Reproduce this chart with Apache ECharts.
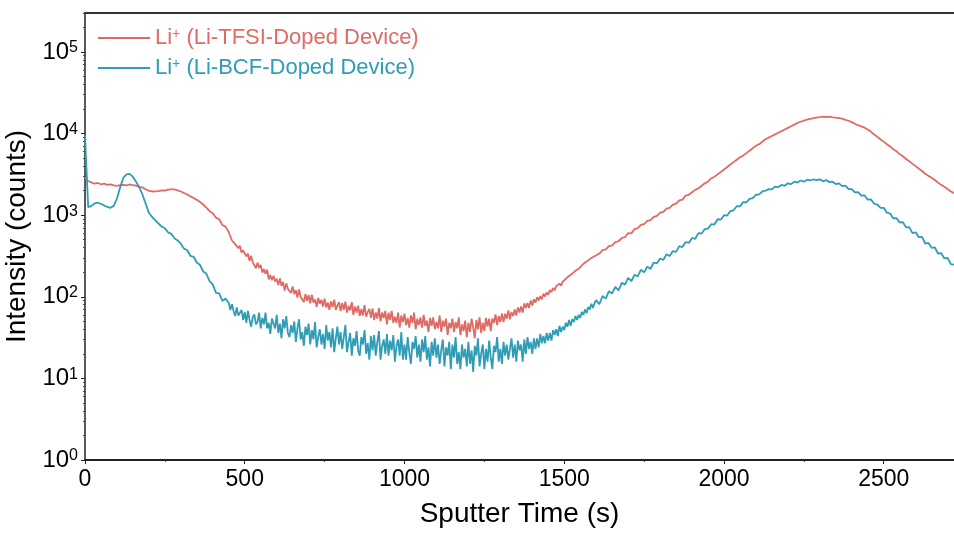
<!DOCTYPE html>
<html>
<head>
<meta charset="utf-8">
<script src="https://cdn.jsdelivr.net/npm/echarts@6/dist/echarts.min.js"></script>
<style>
html,body{margin:0;padding:0;background:#fff;}
#chart{width:954px;height:535px;}
</style>
</head>
<body>
<div id="chart"></div>
<script>
// Segments of the sputter-time sampling grid: [start (s), step (s)]
const earlySegment = [0, 10];     // 0 – 440 s
const middleSegment = [450, 5];   // 450 – 1595 s (noisy minimum, finer sampling)
const lateSegment = [1600, 10];   // 1600 – 2720 s

// Li+ counts, Li-TFSI-doped device
const tfsiEarly = [
  2900, 2620, 2520, 2440, 2480, 2390, 2430, 2350, 2380, 2320,
  2290, 2330, 2350, 2310, 2380, 2330, 2300, 2220, 2190, 2080,
  1990, 1950, 1960, 1970, 2010, 2000, 2060, 2070, 2070, 2010,
  1950, 1870, 1790, 1700, 1620, 1540, 1450, 1350, 1240, 1120,
  1047, 933, 891, 759, 724
];
const tfsiMiddle = [
  617, 594, 489, 515, 442, 458, 394, 423, 349, 371,
  383, 312, 336, 275, 319, 266, 276, 224, 262, 226,
  246, 198, 219, 190, 215, 163, 185, 160, 181, 154,
  166, 139, 168, 136, 152, 119, 146, 125, 130, 111,
  134, 108, 120, 98, 123, 100, 105, 86, 108, 89,
  105, 83, 106, 85, 93, 75, 97, 82, 92, 76,
  95, 74, 85, 69, 88, 75, 92, 69, 78, 86,
  67, 84, 69, 87, 64, 77, 68, 86, 60, 76,
  64, 78, 58, 71, 59, 79, 57, 65, 71, 55,
  72, 52, 64, 54, 73, 50, 64, 55, 67, 46,
  64, 52, 67, 48, 57, 48, 64, 42, 59, 49,
  62, 45, 55, 42, 59, 48, 64, 40, 54, 45,
  56, 42, 60, 44, 51, 37, 55, 44, 56, 40,
  49, 41, 59, 37, 51, 43, 54, 34, 48, 41,
  54, 37, 49, 41, 56, 34, 46, 38, 51, 32,
  48, 37, 54, 42, 31, 52, 40, 56, 36, 48,
  38, 55, 43, 54, 38, 54, 48, 61, 45, 58,
  49, 62, 49, 62, 54, 68, 53, 65, 58, 70,
  59, 74, 64, 76, 64, 83, 73, 84, 73, 90,
  78, 93, 85, 99, 90, 102, 93, 109, 101, 113,
  106, 121, 114, 128, 120, 135, 130, 145, 137, 152,
  149, 167, 162, 180, 172, 192, 187, 208, 201, 220,
  222, 243, 235, 263, 254, 279, 269, 299, 293, 314
];
const tfsiLate = [
  324, 339, 372, 380, 417, 427, 468, 479, 525, 537,
  603, 598, 676, 692, 759, 776, 851, 871, 955, 977,
  1072, 1096, 1202, 1230, 1349, 1380, 1514, 1549, 1738, 1778,
  1905, 2042, 2138, 2291, 2455, 2570, 2818, 2951, 3162, 3388,
  3631, 3890, 4169, 4467, 4786, 5129, 5370, 5754, 6166, 6607,
  7079, 7413, 7943, 8511, 8913, 9333, 9772, 10230, 10720, 11220,
  11750, 12300, 12880, 13490, 13960, 14450, 14790, 15140, 15490, 15670,
  15850, 16150, 15950, 16100, 15800, 15700, 15450, 15200, 14750, 14350,
  13800, 13180, 12650, 12250, 11800, 11180, 10500, 9750, 9150, 8480,
  7960, 7390, 6940, 6430, 6050, 5600, 5270, 4880, 4590, 4250,
  3990, 3700, 3480, 3220, 3030, 2870, 2700, 2500, 2350, 2230,
  2089, 1950, 1862
];

// Li+ counts, Li-BCF-doped device
const bcfEarly = [
  9500, 1250, 1300, 1390, 1420, 1380, 1310, 1260, 1230, 1300,
  1600, 2190, 2880, 3160, 3200, 2950, 2570, 2190, 1780, 1380,
  1070, 950, 870, 790, 725, 690, 615, 590, 520, 490,
  447, 389, 372, 316, 309, 263, 245, 204, 191, 155,
  141, 112, 110, 89, 95
];
const bcfMiddle = [
  84, 69, 81, 67, 58, 74, 59, 62, 69, 52,
  65, 48, 67, 52, 43, 56, 61, 46, 49, 64,
  41, 55, 46, 64, 41, 48, 35, 54, 56, 41,
  60, 36, 47, 31, 53, 41, 58, 36, 32, 45,
  36, 50, 28, 41, 53, 30, 37, 25, 43, 34,
  47, 26, 39, 30, 49, 24, 32, 40, 26, 35,
  23, 45, 29, 37, 24, 41, 21, 31, 43, 26,
  37, 23, 32, 45, 21, 28, 36, 19, 31, 25,
  38, 22, 19, 32, 26, 39, 20, 27, 17, 33,
  22, 34, 19, 28, 38, 17, 25, 30, 20, 35,
  19, 29, 22, 34, 16, 25, 30, 19, 37, 17,
  26, 17, 32, 21, 15, 28, 23, 33, 18, 26,
  16, 30, 21, 33, 17, 24, 14, 28, 19, 31,
  18, 26, 15, 22, 30, 14, 24, 19, 28, 13,
  26, 18, 32, 15, 21, 13, 26, 18, 23, 14,
  28, 15, 22, 12, 25, 19, 31, 14, 20, 26,
  13, 23, 16, 29, 18, 13, 25, 21, 32, 16,
  23, 15, 28, 19, 26, 17, 23, 31, 18, 26,
  16, 29, 22, 26, 16, 30, 20, 32, 23, 28,
  20, 31, 23, 31, 24, 35, 27, 33, 27, 36,
  29, 36, 29, 39, 34, 40, 33, 44, 37, 43,
  39, 48, 43, 52, 44, 53, 49, 58, 52, 60,
  55, 65, 60, 70, 63, 75, 70, 82, 73, 84
];
const bcfLate = [
  91, 81, 102, 95, 117, 110, 132, 120, 148, 141,
  170, 155, 186, 178, 214, 200, 234, 219, 263, 257,
  295, 282, 331, 316, 363, 355, 417, 407, 468, 457,
  525, 513, 603, 596, 676, 684, 776, 767, 891, 880,
  1000, 990, 1122, 1148, 1288, 1280, 1445, 1430, 1585, 1622,
  1778, 1800, 1950, 1995, 2089, 2070, 2239, 2210, 2344, 2291,
  2455, 2399, 2570, 2512, 2660, 2570, 2720, 2660, 2754, 2692,
  2754, 2600, 2692, 2540, 2570, 2399, 2455, 2265, 2300, 2089,
  2090, 1905, 1910, 1738, 1745, 1549, 1560, 1380, 1349, 1230,
  1230, 1072, 1047, 912, 920, 813, 820, 708, 715, 603,
  617, 537, 540, 447, 457, 398, 402, 339, 342, 295,
  300, 251, 248
];

const seriesNames = ['Li+ (Li-TFSI-Doped Device)', 'Li+ (Li-BCF-Doped Device)'];
const seriesColors = ['#E06A64', '#2E9DB5'];
const majorYTicks = [1, 10, 100, 1000, 10000, 100000];
const minorYTicks = [2,3,4,5,6,7,8,9, 20,30,40,50,60,70,80,90, 200,300,400,500,600,700,800,900,
  2000,3000,4000,5000,6000,7000,8000,9000, 20000,30000,40000,50000,60000,70000,80000,90000, 200000, 300000];
const xAxisTitle = 'Sputter Time (s)';
const yAxisTitle = 'Intensity (counts)';

const segment = (seg, arr) => arr.map((v, i) => [seg[0] + i * seg[1], v]);
const build = (early, middle, late) =>
  segment(earlySegment, early).concat(segment(middleSegment, middle), segment(lateSegment, late));

const chart = echarts.init(document.getElementById('chart'), null, {renderer: 'canvas'});
const font = 'Arial, "Liberation Sans", sans-serif';
const supLabel = v => '10{sup|' + Math.round(Math.log10(v)) + '}';

chart.setOption({
  animation: false,
  backgroundColor: '#fff',
  grid: {left: 85, right: 0, top: 13, bottom: 75, containLabel: false, outerBoundsMode: 'none'},
  legend: {
    orient: 'vertical',
    left: 93, top: 22,
    icon: 'rect',
    itemWidth: 52, itemHeight: 2, itemGap: 8,
    formatter: n => n.replace('Li+', 'Li{sup|+}'),
    data: seriesNames.map((n, i) => ({
      name: n,
      itemStyle: {color: seriesColors[i]},
      textStyle: {
        color: seriesColors[i], fontSize: 22, fontFamily: font,
        rich: {sup: {fontSize: 14, color: seriesColors[i], verticalAlign: 'top', fontFamily: font, lineHeight: 16}}
      }
    }))
  },
  xAxis: [{
    type: 'value', min: 0, max: 2720, interval: 500,
    name: xAxisTitle, nameLocation: 'middle', nameGap: 40,
    nameTextStyle: {fontSize: 28, color: '#000', fontFamily: font},
    axisLine: {show: true, onZero: false, lineStyle: {color: '#222', width: 2}},
    axisTick: {show: true, inside: false, length: 4, lineStyle: {color: '#222', width: 1}},
    minorTick: {show: true, splitNumber: 2, length: 2, lineStyle: {color: '#444', width: 1}},
    axisLabel: {fontSize: 23, color: '#000', fontFamily: font, margin: 8, showMaxLabel: false, formatter: v => String(v)},
    splitLine: {show: false}
  }, {
    type: 'value', min: 0, max: 2720, position: 'top',
    axisLine: {show: true, onZero: false, lineStyle: {color: '#333', width: 2}},
    axisTick: {show: false}, axisLabel: {show: false}, splitLine: {show: false}
  }],
  yAxis: [{
    type: 'log', logBase: 10, min: 1, max: 300000,
    name: yAxisTitle, nameLocation: 'middle', nameGap: 46, nameRotate: 90,
    nameTextStyle: {fontSize: 28, color: '#000', fontFamily: font},
    axisLine: {show: true, onZero: false, lineStyle: {color: '#222', width: 1.5}},
    axisTick: {show: true, inside: false, length: 4, lineStyle: {color: '#222', width: 1}, customValues: majorYTicks},
    minorTick: {show: false},
    axisLabel: {
      fontSize: 24, color: '#000', fontFamily: font, margin: 7,
      customValues: majorYTicks,
      formatter: supLabel,
      rich: {sup: {fontSize: 16, color: '#000', verticalAlign: 'top', lineHeight: 15, fontFamily: font}}
    },
    splitLine: {show: false}
  }, {
    type: 'log', logBase: 10, min: 1, max: 300000, position: 'left',
    axisLine: {show: false},
    axisTick: {show: true, inside: false, length: 2, lineStyle: {color: '#444', width: 1}, customValues: minorYTicks},
    axisLabel: {show: false},
    splitLine: {show: false}
  }],
  series: [{
    name: seriesNames[0], type: 'line', xAxisIndex: 0, yAxisIndex: 0,
    data: build(tfsiEarly, tfsiMiddle, tfsiLate), showSymbol: false, symbol: 'none',
    lineStyle: {color: seriesColors[0], width: 1.8}, itemStyle: {color: seriesColors[0]}
  }, {
    name: seriesNames[1], type: 'line', xAxisIndex: 0, yAxisIndex: 0,
    data: build(bcfEarly, bcfMiddle, bcfLate), showSymbol: false, symbol: 'none',
    lineStyle: {color: seriesColors[1], width: 1.8}, itemStyle: {color: seriesColors[1]}
  }]
});
</script>
</body>
</html>
